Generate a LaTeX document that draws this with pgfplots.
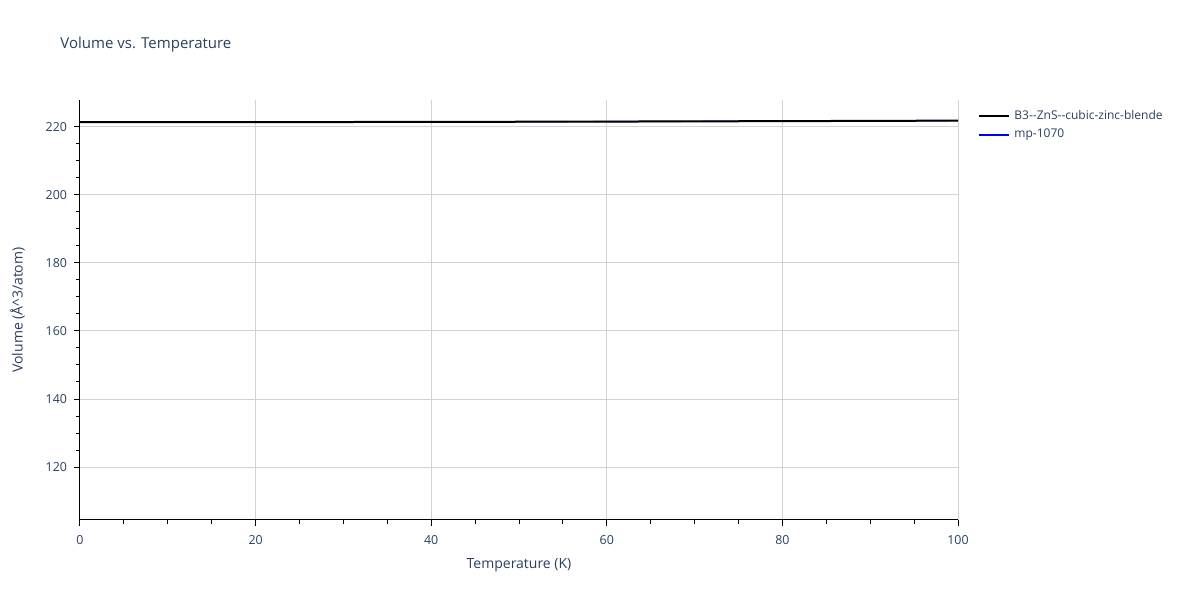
\documentclass[border=0pt]{standalone}
\usepackage{pgfplots}
\pgfplotsset{compat=1.18}
\usepackage{fontspec}
\setmainfont{Open Sans}
\definecolor{txt}{HTML}{2A3F5F}
\definecolor{gridc}{HTML}{D3D3D3}
\begin{document}
\begin{tikzpicture}[x=1pt,y=1pt]
\path[use as bounding box] (0,0) rectangle (600,300);
\node[anchor=base west,inner sep=0pt,text=txt,font=\fontsize{7.5}{9}\selectfont] at (30,275.5) {Volume vs. Temperature};
\begin{axis}[
  at={(40pt,40pt)}, anchor=south west,
  scale only axis, width=439pt, height=210pt,
  xmin=0, xmax=100, ymin=104.45, ymax=227.85,
  xtick={0,20,...,100}, ytick={120,140,...,220},
  minor x tick num=3, minor y tick num=3,
  axis x line*=bottom, axis y line*=left,
  axis line style={-,black,line width=0.5pt},
  tick align=outside, major tick length=3pt, minor tick length=2pt,
  tick style={black,line width=0.5pt},
  xmajorgrids, ymajorgrids,
  major grid style={gridc,line width=0.5pt},
  /pgf/number format/assume math mode=true,
  ticklabel style={text=txt,font=\fontsize{6.2}{7}\selectfont},
  xticklabel style={yshift=-1pt},
  xlabel={Temperature (K)}, ylabel={Volume (Å\textasciicircum 3/atom)},
  label style={text=txt,font=\fontsize{7}{8}\selectfont},
  xlabel style={at={(0.5,0)},yshift=-15.5pt},
  ylabel style={yshift=3.5pt},
  legend style={at={(1.016,0.996)},anchor=north west,draw=none,fill=none,
    text=txt,font=\fontsize{6}{7}\selectfont,row sep=-0.5pt},
  legend cell align=left,
  legend image code/.code={\draw[#1,line width=1pt] (0pt,0pt) -- (15pt,0pt);},
  clip=false,
]
% mp-1070 lies under the other curve
\addplot[blue,line width=0.6pt,forget plot] coordinates {(0,221.35) (10,221.35) (20,221.36) (30,221.38) (40,221.42) (50,221.46) (60,221.51) (70,221.57) (80,221.64) (90,221.71) (100,221.79)};
\addplot[black,line width=1pt,forget plot] coordinates {(0,221.35) (10,221.35) (20,221.36) (30,221.38) (40,221.42) (50,221.46) (60,221.51) (70,221.57) (80,221.64) (90,221.71) (100,221.79)};
\addlegendimage{black}
\addlegendentry{B3{-}{-}ZnS{-}{-}cubic-zinc-blende}
\addlegendimage{blue}
\addlegendentry{mp-1070}
\end{axis}
\end{tikzpicture}
\end{document}
